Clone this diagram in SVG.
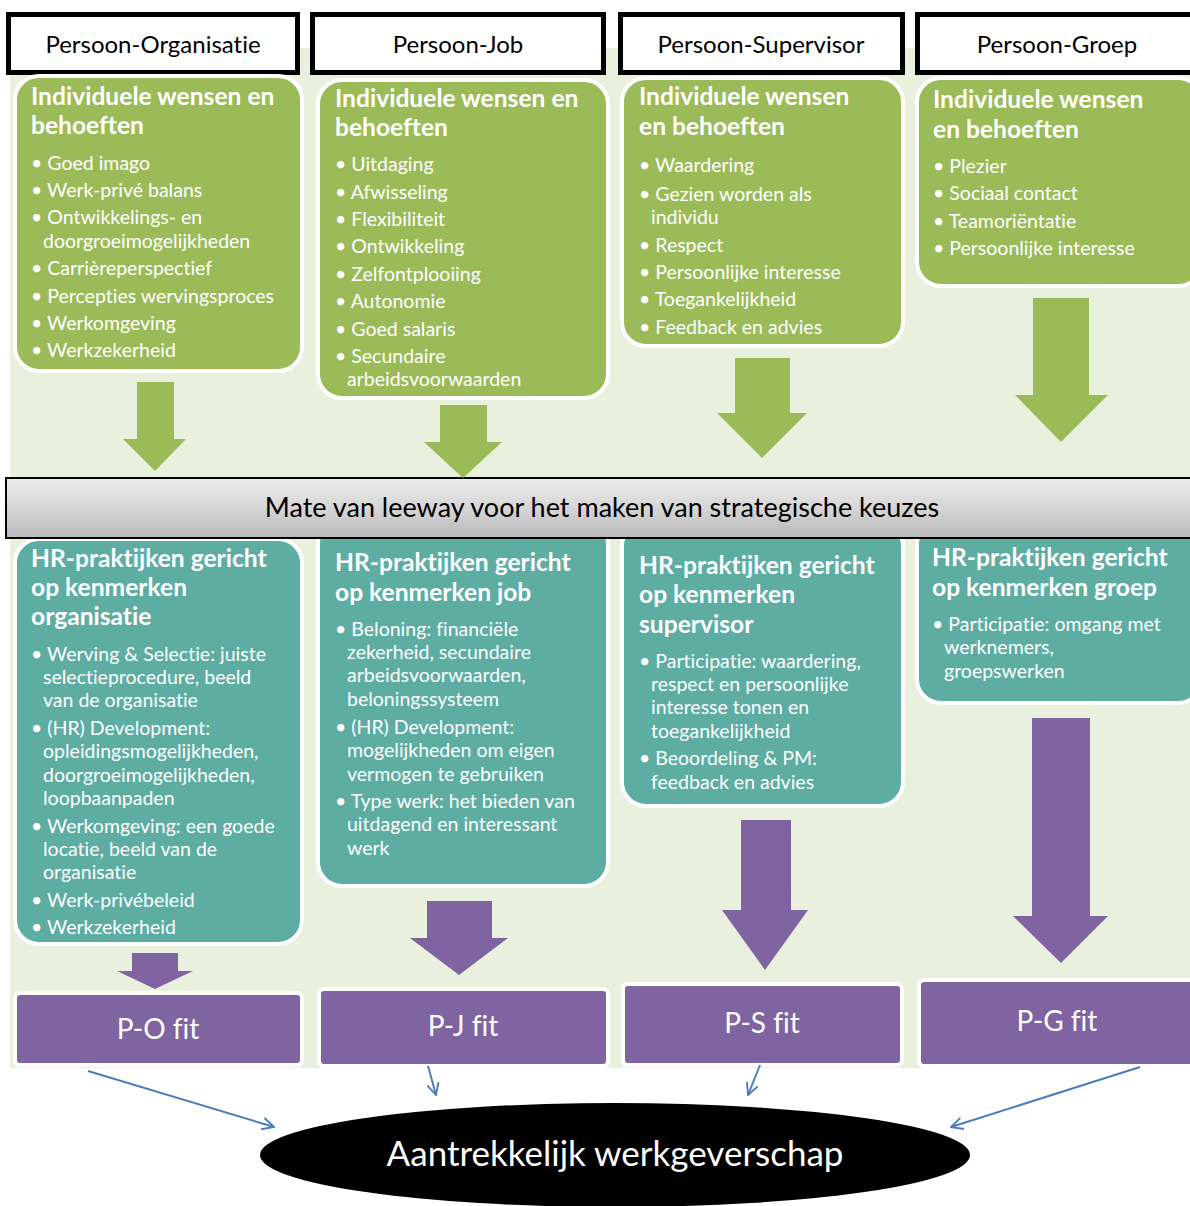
<svg xmlns="http://www.w3.org/2000/svg" width="1190" height="1206" viewBox="0 0 1190 1206">
  <defs>
    <linearGradient id="bandFill" x1="0" y1="0" x2="0" y2="1">
      <stop offset="0" stop-color="#ececec"/>
      <stop offset="0.5" stop-color="#d6d6d6"/>
      <stop offset="1" stop-color="#b9b9b9"/>
    </linearGradient>
    <marker id="openHead" viewBox="0 0 12 12" refX="11" refY="6" markerWidth="14" markerHeight="14" markerUnits="userSpaceOnUse" orient="auto">
      <path d="M1,1 L11,6 L1,11" fill="none" stroke="#4a7ebb" stroke-width="1.6"/>
    </marker>
    <style>
      text { font-family: Lato, "Liberation Sans", sans-serif; font-variant-ligatures: none; }
      .hdr { fill: #ffffff; stroke: #000000; stroke-width: 5; }
      .hdrText { font-size: 24px; fill: #000000; text-anchor: middle; }
      .need { fill: #9bbb59; stroke: #ffffff; stroke-width: 4; }
      .hr { fill: #5dada3; stroke: #ffffff; stroke-width: 4; }
      .fit { fill: #8064a2; stroke: #ffffff; stroke-width: 4; }
      .title { font-weight: bold; font-size: 24.6px; fill: #ffffff; }
      .item { font-size: 19.5px; fill: #ffffff; }
      .fitText { font-size: 28px; fill: #ffffff; text-anchor: middle; }
      .bandText { font-size: 27px; fill: #000000; text-anchor: middle; }
      .goalText { font-size: 35px; fill: #ffffff; text-anchor: middle; }
      .gArrow { fill: #9bbb59; }
      .pArrow { fill: #8064a2; }
      .link { fill: none; stroke: #4a7ebb; stroke-width: 2; marker-end: url(#openHead); }
    </style>
  </defs>

  <!-- light backdrop behind the four columns -->
  <rect x="10" y="48" width="1180" height="1020" fill="#e9f0dd"/>

  <!-- column headers -->
  <g id="hdr-po"><rect class="hdr" x="8.5" y="14.5" width="289" height="58"/><text class="hdrText" x="153" y="53">Persoon-Organisatie</text></g>
  <g id="hdr-pj"><rect class="hdr" x="312.5" y="14.5" width="291" height="58"/><text class="hdrText" x="458" y="53">Persoon-Job</text></g>
  <g id="hdr-ps"><rect class="hdr" x="620.5" y="14.5" width="282" height="58"/><text class="hdrText" x="761" y="53">Persoon-Supervisor</text></g>
  <g id="hdr-pg"><rect class="hdr" x="917.5" y="14.5" width="280" height="58"/><text class="hdrText" x="1057" y="53">Persoon-Groep</text></g>

  <!-- individual needs -->
  <g id="need-po">
    <rect class="need" x="15" y="76" width="287" height="295" rx="24"/>
    <text class="title" x="31" y="105">Individuele wensen en</text>
    <text class="title" x="31" y="134">behoeften</text>
    <text class="item" x="31" y="170">• Goed imago</text>
    <text class="item" x="31" y="197">• Werk-privé balans</text>
    <text class="item" x="31" y="224">• Ontwikkelings- en</text>
    <text class="item" x="43" y="248">doorgroeimogelijkheden</text>
    <text class="item" x="31" y="275">• Carrièreperspectief</text>
    <text class="item" x="31" y="303">• Percepties wervingsproces</text>
    <text class="item" x="31" y="330">• Werkomgeving</text>
    <text class="item" x="31" y="357">• Werkzekerheid</text>
  </g>
  <g id="need-pj">
    <rect class="need" x="318" y="80" width="290" height="318" rx="24"/>
    <text class="title" x="335" y="107">Individuele wensen en</text>
    <text class="title" x="335" y="136">behoeften</text>
    <text class="item" x="335" y="171">• Uitdaging</text>
    <text class="item" x="335" y="199">• Afwisseling</text>
    <text class="item" x="335" y="226">• Flexibiliteit</text>
    <text class="item" x="335" y="253">• Ontwikkeling</text>
    <text class="item" x="335" y="281">• Zelfontplooiing</text>
    <text class="item" x="335" y="308">• Autonomie</text>
    <text class="item" x="335" y="336">• Goed salaris</text>
    <text class="item" x="335" y="363">• Secundaire</text>
    <text class="item" x="347" y="386">arbeidsvoorwaarden</text>
  </g>
  <g id="need-ps">
    <rect class="need" x="622" y="78" width="281" height="268" rx="24"/>
    <text class="title" x="639" y="105">Individuele wensen</text>
    <text class="title" x="639" y="135">en behoeften</text>
    <text class="item" x="639" y="172">• Waardering</text>
    <text class="item" x="639" y="201">• Gezien worden als</text>
    <text class="item" x="651" y="224">individu</text>
    <text class="item" x="639" y="252">• Respect</text>
    <text class="item" x="639" y="279">• Persoonlijke interesse</text>
    <text class="item" x="639" y="306">• Toegankelijkheid</text>
    <text class="item" x="639" y="334">• Feedback en advies</text>
  </g>
  <g id="need-pg">
    <rect class="need" x="917" y="78" width="285" height="208" rx="24"/>
    <text class="title" x="933" y="108">Individuele wensen</text>
    <text class="title" x="933" y="138">en behoeften</text>
    <text class="item" x="933" y="173">• Plezier</text>
    <text class="item" x="933" y="200">• Sociaal contact</text>
    <text class="item" x="933" y="228">• Teamoriëntatie</text>
    <text class="item" x="933" y="255">• Persoonlijke interesse</text>
  </g>

  <!-- HR practices -->
  <g id="hr-po">
    <rect class="hr" x="15" y="539" width="287" height="405" rx="24"/>
    <text class="title" x="31" y="567">HR-praktijken gericht</text>
    <text class="title" x="31" y="596">op kenmerken</text>
    <text class="title" x="31" y="625">organisatie</text>
    <text class="item" x="31" y="661">• Werving &amp; Selectie: juiste</text>
    <text class="item" x="43" y="684">selectieprocedure, beeld</text>
    <text class="item" x="43" y="707">van de organisatie</text>
    <text class="item" x="31" y="735">• (HR) Development:</text>
    <text class="item" x="43" y="758">opleidingsmogelijkheden,</text>
    <text class="item" x="43" y="782">doorgroeimogelijkheden,</text>
    <text class="item" x="43" y="805">loopbaanpaden</text>
    <text class="item" x="31" y="833">• Werkomgeving: een goede</text>
    <text class="item" x="43" y="856">locatie, beeld van de</text>
    <text class="item" x="43" y="879">organisatie</text>
    <text class="item" x="31" y="907">• Werk-privébeleid</text>
    <text class="item" x="31" y="934">• Werkzekerheid</text>
  </g>
  <g id="hr-pj">
    <rect class="hr" x="318" y="520" width="290" height="366" rx="24"/>
    <text class="title" x="335" y="571">HR-praktijken gericht</text>
    <text class="title" x="335" y="601">op kenmerken job</text>
    <text class="item" x="335" y="636">• Beloning: financiële</text>
    <text class="item" x="347" y="659">zekerheid, secundaire</text>
    <text class="item" x="347" y="682">arbeidsvoorwaarden,</text>
    <text class="item" x="347" y="706">beloningssysteem</text>
    <text class="item" x="335" y="734">• (HR) Development:</text>
    <text class="item" x="347" y="757">mogelijkheden om eigen</text>
    <text class="item" x="347" y="781">vermogen te gebruiken</text>
    <text class="item" x="335" y="808">• Type werk: het bieden van</text>
    <text class="item" x="347" y="831">uitdagend en interessant</text>
    <text class="item" x="347" y="855">werk</text>
  </g>
  <g id="hr-ps">
    <rect class="hr" x="622" y="522" width="281" height="284" rx="24"/>
    <text class="title" x="639" y="574">HR-praktijken gericht</text>
    <text class="title" x="639" y="603">op kenmerken</text>
    <text class="title" x="639" y="633">supervisor</text>
    <text class="item" x="639" y="668">• Participatie: waardering,</text>
    <text class="item" x="651" y="691">respect en persoonlijke</text>
    <text class="item" x="651" y="714">interesse tonen en</text>
    <text class="item" x="651" y="738">toegankelijkheid</text>
    <text class="item" x="639" y="765">• Beoordeling &amp; PM:</text>
    <text class="item" x="651" y="789">feedback en advies</text>
  </g>
  <g id="hr-pg">
    <rect class="hr" x="917" y="520" width="285" height="183" rx="24"/>
    <text class="title" x="932" y="566">HR-praktijken gericht</text>
    <text class="title" x="932" y="596">op kenmerken groep</text>
    <text class="item" x="932" y="631">• Participatie: omgang met</text>
    <text class="item" x="944" y="654">werknemers,</text>
    <text class="item" x="944" y="678">groepswerken</text>
  </g>

  <!-- strategic leeway band -->
  <g id="leeway">
    <rect x="6" y="478" width="1190" height="60" fill="url(#bandFill)" stroke="#000000" stroke-width="2"/>
    <text class="bandText" x="602" y="517">Mate van leeway voor het maken van strategische keuzes</text>
  </g>

  <!-- fit outcomes -->
  <g id="fit-po"><rect class="fit" x="15" y="993" width="287" height="72" rx="5"/><text class="fitText" x="158" y="1039">P-O fit</text></g>
  <g id="fit-pj"><rect class="fit" x="319" y="989" width="289" height="77" rx="5"/><text class="fitText" x="463" y="1036">P-J fit</text></g>
  <g id="fit-ps"><rect class="fit" x="623" y="984" width="279" height="81" rx="5"/><text class="fitText" x="762" y="1033">P-S fit</text></g>
  <g id="fit-pg"><rect class="fit" x="919" y="980" width="280" height="86" rx="5"/><text class="fitText" x="1057" y="1031">P-G fit</text></g>

  <!-- employer attractiveness -->
  <g id="goal">
    <ellipse cx="615" cy="1155" rx="355" ry="52" fill="#000000"/>
    <text class="goalText" x="615" y="1166">Aantrekkelijk werkgeverschap</text>
  </g>

  <!-- connectors -->
  <g id="connectors">
    <polygon class="gArrow" points="137,382 174,382 174,439 186,439 155,471 123,439 137,439"/>
    <polygon class="gArrow" points="440,405 487,405 487,442 502,442 463,478 424,442 440,442"/>
    <polygon class="gArrow" points="735,358 790,358 790,413 807,413 762,458 717,413 735,413"/>
    <polygon class="gArrow" points="1033,298 1089,298 1089,395 1108,395 1061,442 1015,395 1033,395"/>

    <polygon class="pArrow" points="132,953 178,953 178,971 193,971 155,989 117,971 132,971"/>
    <polygon class="pArrow" points="427,901 492,901 492,938 508,938 459,975 410,938 427,938"/>
    <polygon class="pArrow" points="741,820 791,820 791,910 808,910 765,970 722,910 741,910"/>
    <polygon class="pArrow" points="1032,718 1090,718 1090,916 1108,916 1061,963 1013,916 1032,916"/>

    <line class="link" x1="88" y1="1071" x2="274" y2="1127"/>
    <line class="link" x1="428" y1="1066" x2="436" y2="1095"/>
    <line class="link" x1="760" y1="1065" x2="748" y2="1095"/>
    <line class="link" x1="1140" y1="1067" x2="951" y2="1127"/>
  </g>
</svg>
